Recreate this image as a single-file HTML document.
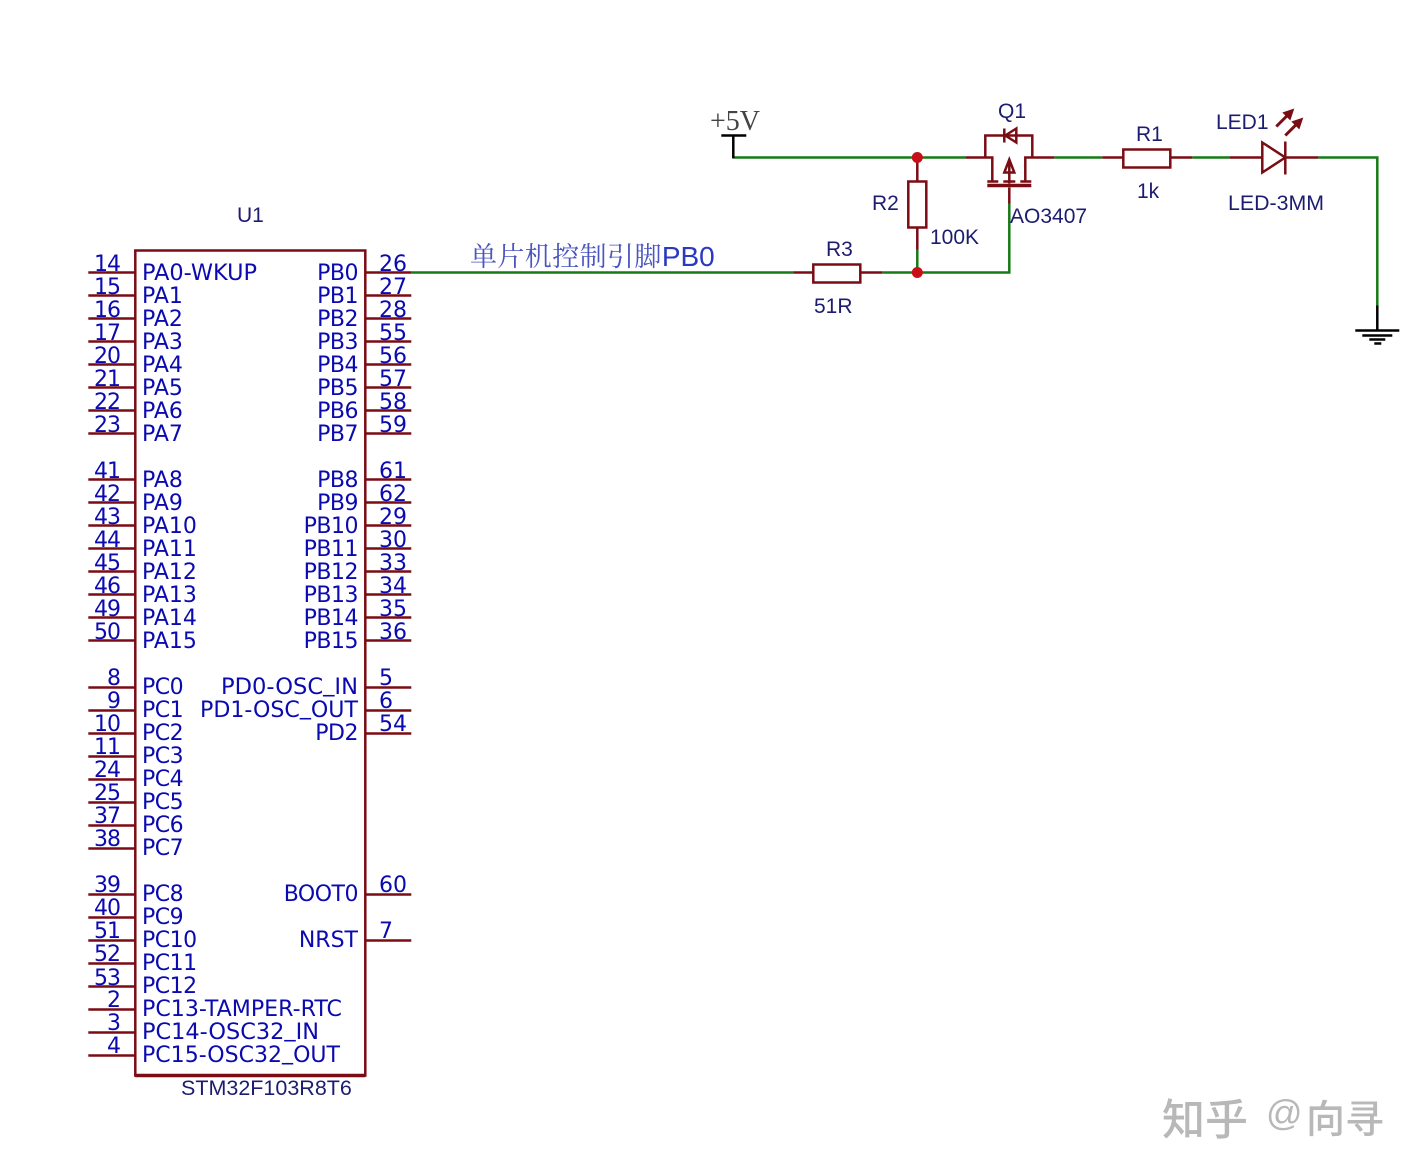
<!DOCTYPE html>
<html><head><meta charset="utf-8"><style>
html,body{margin:0;padding:0;background:#fff}
svg{display:block}
.n{font:22px "DejaVu Sans",sans-serif;fill:#0a0ab0}
.s{text-anchor:end;letter-spacing:-1px}
.w{font:22px "DejaVu Sans",sans-serif;fill:#0a0ab0}
.b{letter-spacing:-.5px}
.l{font:21px "Liberation Sans",sans-serif;fill:#1c1c70}
.wm{font-family:"Liberation Sans","Noto Sans CJK SC",sans-serif;font-weight:500;fill:#b8b8b8}
</style></head><body>
<svg width="1422" height="1176" viewBox="0 0 1422 1176" xmlns="http://www.w3.org/2000/svg">
<rect width="1422" height="1176" fill="#fff"/>
<g transform="translate(.3,.5)">
<!-- green wires -->
<g fill="none" stroke="#157a15" stroke-width="2.5">
<path d="M734 157H965M1054 157H1102M1192 157H1229M1318 157H1377V306"/>
<path d="M411 272H793M882 272H1009V203M917 249V272"/>
</g>
<!-- black symbols -->
<g fill="none" stroke="#000" stroke-width="2.5">
<path d="M733 135V158M721 135H746"/>
<path d="M1377 305V330M1355 330H1399M1362 335H1392M1369 339H1385M1374 343H1381"/>
</g>
<!-- components -->
<g fill="none" stroke="#7a0c14" stroke-width="2.5">
<path d="M793 272H813M860 272H882"/><rect x="813" y="264" width="47" height="18"/>
<path d="M917 157V181M917 227V249"/><rect x="908" y="181" width="18" height="46"/>
<path d="M1102 157H1123M1170 157H1192"/><rect x="1123" y="149" width="47" height="18"/>
<path d="M965 157H992V181M1054 157H1025V181"/>
<path d="M985 157V135H1032V157"/>
<path d="M1004 128V142M1016 128L1005 135L1016 142Z"/>
<path d="M1009 162V183M1009 187V203"/>
<path d="M1009 159L1004 172H1014Z"/>
<path d="M987 181H998M1003 181H1015M1020 181H1031"/>
<path d="M987 185H1031" stroke-width="3.5"/>
<path d="M1229 157H1262M1285 157H1318"/>
<path d="M1262 142V172L1285 157Z"/>
<path d="M1285 141V174"/>
<path d="M1276 126L1288 114M1285 135L1297 123" stroke-width="3"/>
</g>
<g fill="#7a0c14"><path d="M1294 108L1282 112L1290 120Z"/><path d="M1303 117L1291 121L1299 129Z"/></g>
<circle cx="917" cy="157" r="5.5" fill="#c80f17"/>
<circle cx="917" cy="272" r="5.5" fill="#c80f17"/>
<!-- chip -->
<path d="M135 1075V250H365V1075Z" fill="none" stroke="#7a0c14" stroke-width="2.5"/>
<path d="M135 1075H365" stroke="#7a0c14" stroke-width="3.5"/>
<g stroke="#7a0c14" stroke-width="2.5" fill="none">
<path d="M88 272H135M88 295H135M88 318H135M88 341H135M88 364H135M88 387H135M88 410H135M88 433H135M88 479H135M88 502H135M88 525H135M88 548H135M88 571H135M88 594H135M88 617H135M88 640H135M88 687H135M88 710H135M88 733H135M88 756H135M88 779H135M88 802H135M88 825H135M88 848H135M88 894H135M88 917H135M88 940H135M88 963H135M88 986H135M88 1009H135M88 1032H135M88 1055H135"/>
<path d="M365 272H411M365 295H411M365 318H411M365 341H411M365 364H411M365 387H411M365 410H411M365 433H411M365 479H411M365 502H411M365 525H411M365 548H411M365 571H411M365 594H411M365 617H411M365 640H411M365 687H411M365 710H411M365 733H411M365 894H411M365 940H411"/>
</g>
</g>
<!-- left numbers -->
<g>
<text x="120" y="271" class="n s">14</text><text x="120" y="294" class="n s">15</text><text x="120" y="317" class="n s">16</text><text x="120" y="340" class="n s">17</text><text x="120" y="363" class="n s">20</text><text x="120" y="386" class="n s">21</text><text x="120" y="409" class="n s">22</text><text x="120" y="432" class="n s">23</text>
<text x="120" y="478" class="n s">41</text><text x="120" y="501" class="n s">42</text><text x="120" y="524" class="n s">43</text><text x="120" y="547" class="n s">44</text><text x="120" y="570" class="n s">45</text><text x="120" y="593" class="n s">46</text><text x="120" y="616" class="n s">49</text><text x="120" y="639" class="n s">50</text>
<text x="120" y="685" class="n s">8</text><text x="120" y="708" class="n s">9</text><text x="120" y="731" class="n s">10</text><text x="120" y="754" class="n s">11</text><text x="120" y="777" class="n s">24</text><text x="120" y="800" class="n s">25</text><text x="120" y="823" class="n s">37</text><text x="120" y="846" class="n s">38</text>
<text x="120" y="892" class="n s">39</text><text x="120" y="915" class="n s">40</text><text x="120" y="938" class="n s">51</text><text x="120" y="961" class="n s">52</text><text x="120" y="985" class="n s">53</text><text x="120" y="1007" class="n s">2</text><text x="120" y="1030" class="n s">3</text><text x="120" y="1053" class="n s">4</text>
</g>
<!-- right numbers -->
<g>
<text x="379" y="271" class="n">26</text><text x="379" y="294" class="n">27</text><text x="379" y="317" class="n">28</text><text x="379" y="340" class="n">55</text><text x="379" y="363" class="n">56</text><text x="379" y="386" class="n">57</text><text x="379" y="409" class="n">58</text><text x="379" y="432" class="n">59</text>
<text x="379" y="478" class="n">61</text><text x="379" y="501" class="n">62</text><text x="379" y="524" class="n">29</text><text x="379" y="547" class="n">30</text><text x="379" y="570" class="n">33</text><text x="379" y="593" class="n">34</text><text x="379" y="616" class="n">35</text><text x="379" y="639" class="n">36</text>
<text x="379" y="685" class="n">5</text><text x="379" y="708" class="n">6</text><text x="379" y="731" class="n">54</text>
<text x="379" y="892" class="n">60</text><text x="379" y="938" class="n">7</text>
</g>
<!-- left names -->
<g>
<text x="142" y="280" class="w" textLength="115" lengthAdjust="spacingAndGlyphs">PA0-WKUP</text><text x="142" y="303" class="w">PA1</text><text x="142" y="326" class="w">PA2</text><text x="142" y="349" class="w">PA3</text><text x="142" y="372" class="w">PA4</text><text x="142" y="395" class="w">PA5</text><text x="142" y="418" class="w">PA6</text><text x="142" y="441" class="w">PA7</text>
<text x="142" y="487" class="w">PA8</text><text x="142" y="510" class="w">PA9</text><text x="142" y="533" class="w">PA10</text><text x="142" y="556" class="w">PA11</text><text x="142" y="579" class="w">PA12</text><text x="142" y="602" class="w">PA13</text><text x="142" y="625" class="w">PA14</text><text x="142" y="648" class="w">PA15</text>
<text x="142" y="694" class="w b">PC0</text><text x="142" y="717" class="w b">PC1</text><text x="142" y="740" class="w b">PC2</text><text x="142" y="763" class="w b">PC3</text><text x="142" y="786" class="w b">PC4</text><text x="142" y="809" class="w b">PC5</text><text x="142" y="832" class="w b">PC6</text><text x="142" y="855" class="w b">PC7</text>
<text x="142" y="901" class="w b">PC8</text><text x="142" y="924" class="w b">PC9</text><text x="142" y="947" class="w b">PC10</text><text x="142" y="970" class="w b">PC11</text><text x="142" y="993" class="w b">PC12</text><text x="142" y="1016" class="w" textLength="200" lengthAdjust="spacingAndGlyphs">PC13-TAMPER-RTC</text><text x="142" y="1039" class="w" textLength="177" lengthAdjust="spacingAndGlyphs">PC14-OSC32<tspan dy="-3">_</tspan><tspan dy="3">IN</tspan></text><text x="142" y="1062" class="w" textLength="198" lengthAdjust="spacingAndGlyphs">PC15-OSC32<tspan dy="-3">_</tspan><tspan dy="3">OUT</tspan></text>
</g>
<!-- right names -->
<g text-anchor="end">
<text x="358" y="280" class="w b">PB0</text><text x="358" y="303" class="w b">PB1</text><text x="358" y="326" class="w b">PB2</text><text x="358" y="349" class="w b">PB3</text><text x="358" y="372" class="w b">PB4</text><text x="358" y="395" class="w b">PB5</text><text x="358" y="418" class="w b">PB6</text><text x="358" y="441" class="w b">PB7</text>
<text x="358" y="487" class="w b">PB8</text><text x="358" y="510" class="w b">PB9</text><text x="358" y="533" class="w b">PB10</text><text x="358" y="556" class="w b">PB11</text><text x="358" y="579" class="w b">PB12</text><text x="358" y="602" class="w b">PB13</text><text x="358" y="625" class="w b">PB14</text><text x="358" y="648" class="w b">PB15</text>
<text x="358" y="740" class="w b">PD2</text>
<text x="358" y="901" class="w b">BOOT0</text><text x="358" y="947" class="w">NRST</text>
</g>
<text x="221" y="694" class="w" textLength="137" lengthAdjust="spacingAndGlyphs">PD0-OSC<tspan dy="-3">_</tspan><tspan dy="3">IN</tspan></text>
<text x="200" y="717" class="w" textLength="158" lengthAdjust="spacingAndGlyphs">PD1-OSC<tspan dy="-3">_</tspan><tspan dy="3">OUT</tspan></text>
<!-- labels -->
<text x="237" y="222" class="l">U1</text>
<text x="181" y="1095" class="l" style="font-size:21.5px">STM32F103R8T6</text>
<text x="998" y="118" class="l">Q1</text>
<text x="872" y="210" class="l">R2</text>
<text x="930" y="244" class="l">100K</text>
<text x="826" y="256" class="l">R3</text>
<text x="814" y="313" class="l">51R</text>
<text x="1010" y="223" class="l">AO3407</text>
<text x="1136" y="141" class="l">R1</text>
<text x="1137" y="198" class="l">1k</text>
<text x="1216" y="129" class="l">LED1</text>
<text x="1228" y="210" class="l" textLength="96" lengthAdjust="spacingAndGlyphs">LED-3MM</text>
<text x="710" y="130" style="font:28px 'Liberation Serif',serif;fill:#444">+5V</text>
<text x="470" y="266" style="font:27px 'Liberation Sans','Noto Serif CJK SC',serif;fill:#4a55c0;letter-spacing:.4px">单片机控制引脚<tspan style="font:28px 'Liberation Sans',sans-serif;fill:#2a3ac0;letter-spacing:0">PB0</tspan></text>
<text x="1162" y="1135" class="wm" style="font-size:43px">知乎</text>
<text x="1266" y="1125" class="wm" style="font-size:36px">@</text>
<text x="1306" y="1133" class="wm" style="font-size:39px">向寻</text>
</svg>
</body></html>
